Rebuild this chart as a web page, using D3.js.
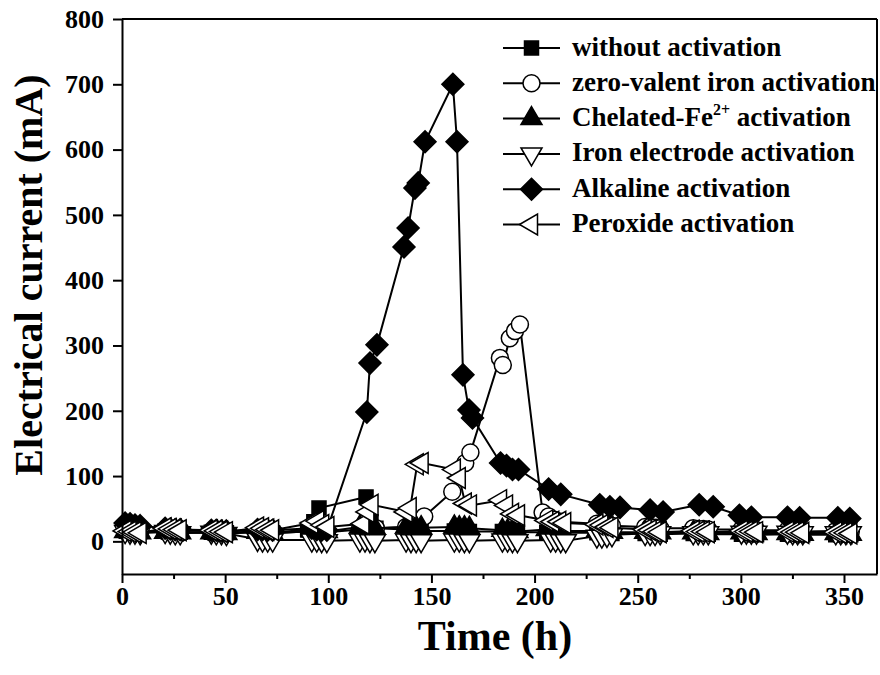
<!DOCTYPE html>
<html><head><meta charset="utf-8">
<script src="https://cdn.jsdelivr.net/npm/d3@7"></script>
<style>
body{margin:0;background:#fff}
svg{display:block}
text{font-family:"Liberation Serif","Times New Roman",serif;font-weight:bold;fill:#000}
</style>
</head><body>
<svg id="chart" width="880" height="675"></svg>
<script>
// ---- data ----
const seriesLabels = ["without activation","zero-valent iron activation","Chelated-Fe","Iron electrode activation","Alkaline activation","Peroxide activation"];
const xTickValues = [0,50,100,150,200,250,300,350];
const xMinorTickValues = [25,75,125,175,225,275,325];
const yTickValues = [0,100,200,300,400,500,600,700,800];

const timeWithout = [1.5,3.9,6.3,8.8, 20.9,23.4,25.8,28.2, 43.3,45.7,48.2,50.6, 65.7,68.1,70.6,73.0, 90.0,93.0,95.5, 118.3,120.7,123.1, 137.7,140.1,142.6,145.0, 161.1,163.5,166.0,168.4, 184.4,186.9,189.3,191.7, 205.9,208.3,210.7,213.2, 230.2,232.6,235.1,237.5, 253.6,256.0,258.4,260.9, 276.9,279.3,281.8,284.2, 300.3,302.7,305.1,307.6, 322.6,325.1,327.5,330.0, 346.0,348.4,350.9,353.3];
const currentWithout = [18,17,16,15, 16,15,15,14, 14,14,13,13, 15,14,14,13, 18,30,51, 68,30,20, 18,17,17,16, 16,16,15,15, 15,15,14,14, 14,14,13,13, 13,13,12,12, 12,12,12,11, 12,11,11,11, 11,11,10,10, 11,10,10,10, 10,10,10,10];

const timeZVI = [1.5,3.9,6.3,8.8, 20.9,23.4,25.8,28.2, 43.3,45.7,48.2,50.6, 65.7,68.1,70.6,73.0, 92.0,94.4,96.8,99.3, 115.3,117.8,120.2,123.1, 137.7,140.1,142.6,146.5, 160.1,166.4,168.9, 183.2,184.6,188.0,190.5,192.9, 203.9,206.8,209.7,212.7, 230.2,232.6,235.1,237.5, 253.6,256.0,258.4,260.9, 276.9,279.3,281.8,284.2, 300.3,302.7,305.1,307.6, 322.6,325.1,327.5,330.0, 346.0,348.4,350.9,353.3];
const currentZVI = [16,15,15,14, 15,14,14,13, 14,13,13,13, 14,14,13,13, 15,15,14,14, 18,19,20,20, 22,25,30,38, 76,120,136, 281,270,311,322,332, 44,38,33,30, 27,26,25,24, 22,22,21,20, 20,19,19,18, 18,18,17,17, 17,16,16,15, 16,15,15,15];

const timeChelated = [1.5,3.9,6.3,8.8, 20.9,23.4,25.8,28.2, 43.3,45.7,48.2,50.6, 65.7,68.1,70.6,73.0, 92.0,94.4,96.8,99.3, 115.3,117.8,120.2,122.6, 137.7,140.1,142.6,145.0, 161.1,163.5,166.0,168.4, 184.4,186.9,189.3,191.7, 205.9,208.3,210.7,213.2, 230.2,232.6,235.1,237.5, 253.6,256.0,258.4,260.9, 276.9,279.3,281.8,284.2, 300.3,302.7,305.1,307.6, 322.6,325.1,327.5,330.0, 346.0,348.4,350.9,353.3];
const currentChelated = [15,14,14,13, 14,14,13,13, 13,13,12,12, 14,13,13,12, 16,16,15,15, 22,22,21,20, 22,22,21,21, 22,21,21,20, 17,16,16,15, 18,17,17,16, 16,15,15,14, 14,14,13,13, 13,13,12,12, 13,12,12,12, 12,12,11,11, 12,11,11,11];

const timeElectrode = [1.5,3.9,6.3,8.8, 20.9,23.4,25.8,28.2, 43.3,45.7,48.2,50.6, 65.7,68.1,70.6,73.0, 92.0,94.4,96.8,99.3, 115.3,117.8,120.2,122.6, 137.7,140.1,142.6,145.0, 161.1,163.5,166.0,168.4, 184.4,186.9,189.3,191.7, 207.8,210.2,212.7,215.1, 230.2,232.6,235.1,237.5, 253.6,256.0,258.4,260.9, 276.9,279.3,281.8,284.2, 300.3,302.7,305.1,307.6, 322.6,325.1,327.5,330.0, 346.0,348.4,350.9,353.3];
const currentElectrode = [15,14,14,13, 15,14,13,13, 14,13,13,12, 3,2,2,2, 2,2,1,1, 2,2,1,1, 2,1,1,1, 2,2,1,1, 2,2,1,1, 2,2,1,1, 8,8,9,10, 12,12,12,13, 13,13,13,13, 14,14,14,14, 14,13,13,13, 13,13,13,13];

const timeAlkaline = [1.5,3.9,6.3,8.8, 20.9,23.4,25.8,28.2, 43.3,45.7,48.2,50.6, 65.7,68.1,70.6,73.0, 92.0,94.4,96.8,99.3, 118.7,120.2,123.6, 136.7,138.7,142.0,143.6,146.9, 160.4,162.4,165.3,168.2,169.9, 183.5,186.4,189.3,192.2, 206.8,212.7, 231.6,236.5,241.4, 256.0,262.3, 279.8,286.6, 299.3,305.1, 322.6,328.5, 347.0,352.8];
const currentAlkaline = [28,27,25,24, 20,19,18,18, 17,17,16,16, 18,18,17,17, 20,18,17,17, 198,273,301, 451,480,541,549,612, 700,612,255,201,189, 120,116,110,110, 80,72, 56,53,52, 48,45, 56,53, 40,37, 37,36, 36,35];

const timePeroxide = [1.5,3.9,6.3,8.8, 20.9,23.4,25.8,28.2, 43.3,45.7,48.2,50.6, 65.7,68.1,70.6,73.0, 92.0,94.9,97.3,99.8, 116.8,119.2,121.2, 137.7,139.7,143.1,145.5, 161.1,163.5,166.4,168.9, 183.5,186.4,189.3,192.2, 205.9,208.8,212.2,214.6, 230.2,232.6,235.1,237.5, 253.6,256.0,258.4,260.9, 276.9,279.3,281.8,284.2, 300.3,302.7,305.1,307.6, 322.6,325.1,327.5,330.0, 346.0,348.4,350.9,353.3];
const currentPeroxide = [16,15,14,13, 20,19,18,17, 17,16,15,14, 21,20,18,17, 28,31,25,22, 27,45,56, 45,51,118,120, 110,97,58,55, 63,55,42,40, 32,30,30,28, 26,25,22,21, 18,17,15,14, 16,15,15,14, 16,15,15,14, 15,14,14,13, 14,13,13,12];

// ---- drawing ----
const svg = d3.select("#chart");
const x = d3.scaleLinear().domain([0,366]).range([122,877]);
const y = d3.scaleLinear().domain([-50,800]).range([574,19]);

const shapes = {
  square: {path:"M-7,-7H7V7H-7Z", fill:"#000"},
  circle: {circle:8.5, fill:"#fff"},
  up: {path:"M0,-12L10.5,6L-10.5,6Z", fill:"#000"},
  down: {path:"M0,12L10.5,-6L-10.5,-6Z", fill:"#fff"},
  diamond: {path:"M0,-11L11,0L0,11L-11,0Z", fill:"#000"},
  left: {path:"M-12,0L6,-10.5L6,10.5Z", fill:"#fff"}
};

const series = [
  {t:timeWithout, v:currentWithout, shape:"square"},
  {t:timeZVI, v:currentZVI, shape:"circle"},
  {t:timeChelated, v:currentChelated, shape:"up"},
  {t:timeElectrode, v:currentElectrode, shape:"down"},
  {t:timeAlkaline, v:currentAlkaline, shape:"diamond"},
  {t:timePeroxide, v:currentPeroxide, shape:"left"}
];

function drawMarker(g, shapeName){
  const s = shapes[shapeName];
  if (s.circle) {
    g.append("circle").attr("r", s.circle).attr("fill", s.fill).attr("stroke","#000").attr("stroke-width",1.5);
  } else {
    g.append("path").attr("d", s.path).attr("fill", s.fill).attr("stroke","#000").attr("stroke-width",1.5).attr("stroke-linejoin","miter");
  }
}

const line = d3.line().x(d=>x(d.t)).y(d=>y(d.v));
const plot = svg.append("g");
series.forEach(s=>{
  const pts = s.t.map((t,i)=>({t:t, v:s.v[i]}));
  plot.append("path").datum(pts).attr("d", line).attr("fill","none").attr("stroke","#000").attr("stroke-width",2);
  pts.forEach(p=>{
    const g = plot.append("g").attr("transform",`translate(${x(p.t)},${y(p.v)})`);
    drawMarker(g, s.shape);
  });
});

// axes
const xAxis = svg.append("g").attr("transform","translate(0,574)")
  .call(d3.axisBottom(x).tickValues(xTickValues).tickSize(9).tickSizeOuter(0).tickPadding(4).tickFormat(d3.format("d")));
svg.append("g").attr("transform","translate(0,574)")
  .call(d3.axisBottom(x).tickValues(xMinorTickValues).tickSize(5).tickSizeOuter(0).tickFormat(""))
  .select(".domain").remove();
const yAxis = svg.append("g").attr("transform","translate(122,0)")
  .call(d3.axisLeft(y).tickValues(yTickValues).tickSize(9).tickSizeOuter(0).tickPadding(9).tickFormat(d3.format("d")));
svg.selectAll(".tick line").attr("stroke","#000").attr("stroke-width",2);
svg.selectAll(".domain").attr("stroke","#000").attr("stroke-width",2);
svg.selectAll(".tick text").attr("font-size",26).attr("font-family","Liberation Serif").attr("font-weight","bold");
// frame
svg.append("line").attr("x1",x(0)).attr("x2",x(366)).attr("y1",y(800)).attr("y2",y(800)).attr("stroke","#000").attr("stroke-width",2);
svg.append("line").attr("x1",x(366)).attr("x2",x(366)).attr("y1",y(800)).attr("y2",y(-50)).attr("stroke","#000").attr("stroke-width",2);

// titles
svg.append("text").attr("x",495).attr("y",650).attr("text-anchor","middle").attr("font-size",42).text("Time (h)");
svg.append("text").attr("transform","translate(42,275) rotate(-90)").attr("text-anchor","middle").attr("font-size",40).text("Electrical current (mA)");

// legend
const legend = svg.append("g");
const legendShapes = ["square","circle","up","down","diamond","left"];
seriesLabels.forEach((lab,i)=>{
  const cy = 48 + i*35.3;
  legend.append("line").attr("x1",503).attr("x2",560).attr("y1",cy).attr("y2",cy).attr("stroke","#000").attr("stroke-width",2);
  drawMarker(legend.append("g").attr("transform",`translate(531.5,${cy})`), legendShapes[i]);
  const t = legend.append("text").attr("x",572).attr("y",cy+7.5).attr("font-size",27);
  if (i===2) {
    t.append("tspan").text("Chelated-Fe");
    t.append("tspan").attr("dy",-11).attr("font-size",16).text("2+");
    t.append("tspan").attr("dy",11).text(" activation");
  } else {
    t.text(lab);
  }
});
</script>
</body></html>
